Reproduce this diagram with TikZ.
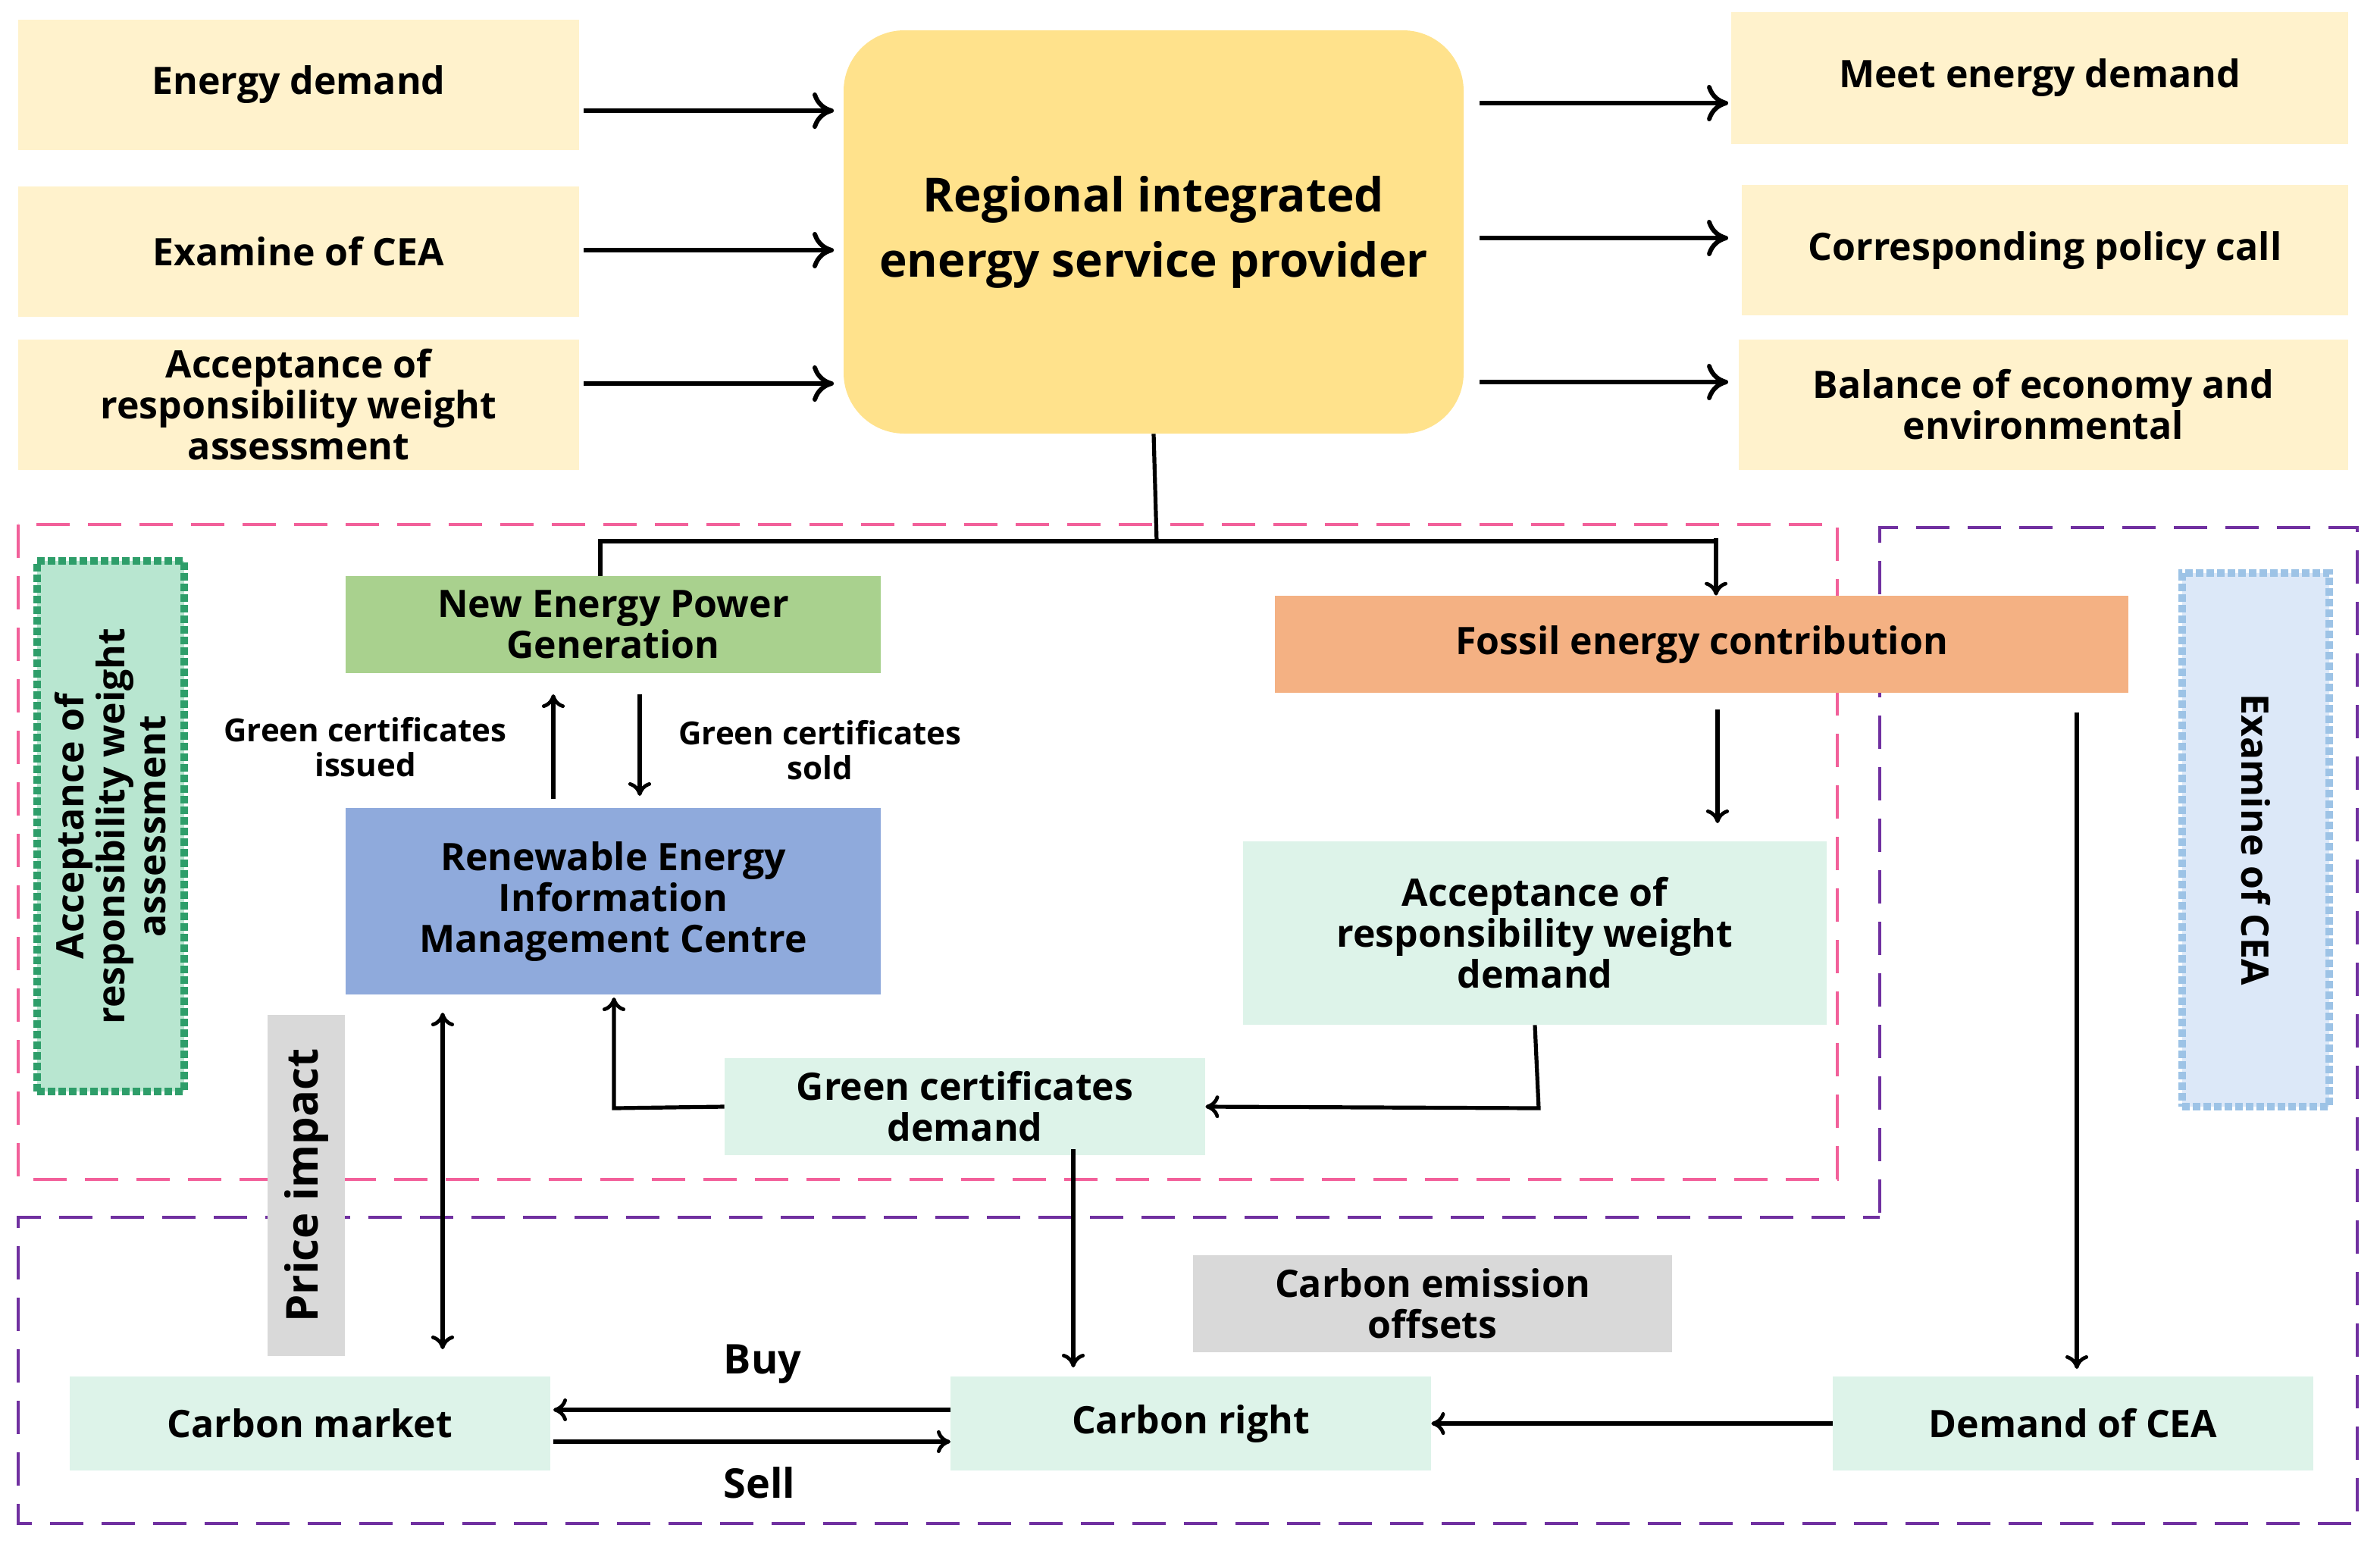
\documentclass[tikz,border=0pt]{standalone}
\usepackage{fontspec}
\setmainfont{Open Sans}
\usetikzlibrary{arrows.meta}
\definecolor{cream}{HTML}{FFF2CC}
\definecolor{gold}{HTML}{FFE28C}
\definecolor{mint}{HTML}{DDF3E9}
\definecolor{gr}{HTML}{A9D18E}
\definecolor{org}{HTML}{F4B183}
\definecolor{blu}{HTML}{8FAADC}
\definecolor{gry}{HTML}{D9D9D9}
\definecolor{pink}{HTML}{F2609A}
\definecolor{purp}{HTML}{7030A0}
\begin{document}
\begin{tikzpicture}[x=1pt,y=-1pt,
 box/.style={draw=none,inner sep=0pt,align=center,font=\fontsize{25}{27}\selectfont\bfseries},
 arr/.style={line width=3.2pt,-{To[length=14pt,width=24pt,line width=3pt]}},
 ar/.style={line width=2.6pt,-{To[length=9pt,width=15pt,line width=2.4pt]}},
 ln/.style={line width=2.6pt},
 lab/.style={font=\fontsize{21}{23}\selectfont\bfseries,align=center}]
\useasboundingbox (0,0) rectangle (1570,1018);
\def\B(#1,#2,#3,#4,#5,#6,#7){\node[box,fill=#6,minimum width=#3-#1,minimum height=#4-#2] (#5) at ({(#1+#3)/2},{(#2+#4)/2}) {#7};}
\B(12,13,382,99,ed,cream,Energy demand)
\B(12,123,382,209,ec,cream,Examine of CEA)
\B(12,224,382,310,ar,cream,Acceptance of\\responsibility weight\\assessment)
\node[box,fill=gold,rounded corners=40pt,minimum width=409,minimum height=266,font=\fontsize{31}{43}\selectfont\bfseries] (c) at (761,153) {Regional integrated\\energy service provider};
\B(1142,8,1549,95,me,cream,Meet energy demand)
\B(1149,122,1549,208,cp,cream,Corresponding policy call)
\B(1147,224,1549,310,be,cream,Balance of economy and\\environmental)
\draw[arr] (385,73) -- (550,73);
\draw[arr] (385,165) -- (550,165);
\draw[arr] (385,253) -- (550,253);
\draw[arr] (976,68) -- (1140,68);
\draw[arr] (976,157) -- (1140,157);
\draw[arr] (976,252) -- (1140,252);
% dashed frames
\draw[pink,line width=2pt,dash pattern=on 22pt off 12pt] (12,346) rectangle (1212,778);
\draw[purp,line width=2pt,dash pattern=on 22pt off 12pt] (1240,800) -- (1240,348) -- (1555,348) -- (1555,1005) -- (12,1005) -- (12,803) -- (1240,803);
\node[draw={rgb,255:red,46;green,158;blue,106},line width=5pt,dotted,fill={rgb,255:red,184;green,230;blue,208},minimum width=97,minimum height=350,inner sep=0pt] (gb) at (73,545) {};
\node[lab,rotate=90,font=\fontsize{25}{27}\selectfont\bfseries] at (gb) {Acceptance of\\responsibility weight\\assessment};
\node[draw={rgb,255:red,157;green,195;blue,230},line width=5pt,dotted,fill={rgb,255:red,220;green,232;blue,248},minimum width=97,minimum height=352,inner sep=0pt] (bb) at (1488,554) {};
\node[rotate=-90,font=\fontsize{25}{27}\selectfont\bfseries] at (bb) {Examine of CEA};
\B(228,380,581,444,ne,gr,New Energy Power\\Generation)
\B(841,393,1404,457,fe,org,Fossil energy contribution)
\B(228,533,581,656,re,blu,Renewable Energy\\Information\\Management Centre)
\B(820,555,1205,676,ad,mint,Acceptance of\\responsibility weight\\demand)
\B(478,698,795,762,gd,mint,Green certificates\\demand)
\node[box,fill=gry,minimum width=51,minimum height=225] (pi) at (202,782) {};
\node[rotate=90,font=\fontsize{29}{31}\selectfont\bfseries] at (pi) {Price impact};
\B(787,828,1103,892,co,gry,Carbon emission\\offsets)
\B(46,908,363,970,cm,mint,Carbon market)
\B(627,908,944,970,cr,mint,Carbon right)
\B(1209,908,1526,970,dc,mint,Demand of CEA)
% connectors
\draw[ln] (c.south) -- (763,357);
\draw[ln] (396,380) -- (396,357) -- (1132,357);
\draw[ar] (1132,355) -- (fe.north -| 1132,0);
\draw[ar] (365,527) -- (365,458);
\draw[ar] (422,458) -- (422,525);
\node[lab] at (241,493) {Green certificates\\issued};
\node[lab] at (541,495) {Green certificates\\sold};
\draw[ar] (1133,468) -- (1133,543);
\draw[ar] (1370,470) -- (1370,903);
\draw[ar] (ad.south) -- (1015,731) -- (gd.east);
\draw[ar] (gd.west) -- (405,731) -- (405,658);
\draw[ar] (708,758) -- (708,902);
\draw[line width=2.6pt,{To[length=9pt,width=15pt,line width=2.4pt]}-{To[length=9pt,width=15pt,line width=2.4pt]}] (292,668) -- (292,890);
\draw[ar] (627,930) -- (365,930);
\draw[ar] (365,951) -- (627,951);
\node[font=\fontsize{27}{29}\selectfont\bfseries] at (503,900) {Buy};
\node[font=\fontsize{27}{29}\selectfont\bfseries] at (501,978) {Sell};
\draw[ar] (dc.west) -- (cr.east);
\end{tikzpicture}
\end{document}
